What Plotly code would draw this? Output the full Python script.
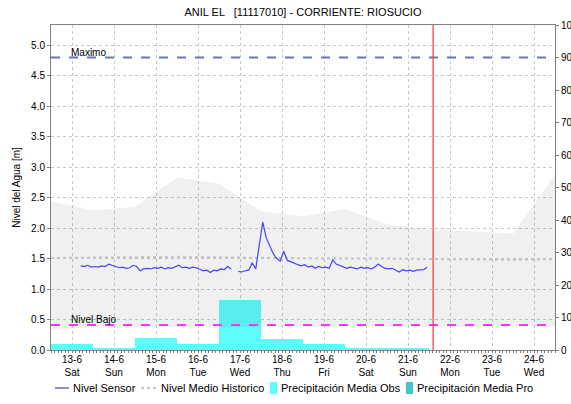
import plotly.graph_objects as go
import pandas as pd

# ---------------- data ----------------
title_text = "ANIL EL   [11117010] - CORRIENTE: RIOSUCIO"

day_ticks = ["2020-06-13", "2020-06-14", "2020-06-15", "2020-06-16", "2020-06-17", "2020-06-18",
             "2020-06-19", "2020-06-20", "2020-06-21", "2020-06-22", "2020-06-23", "2020-06-24"]
day_labels = ["13-6<br>Sat", "14-6<br>Sun", "15-6<br>Mon", "16-6<br>Tue", "17-6<br>Wed", "18-6<br>Thu",
              "19-6<br>Fri", "20-6<br>Sat", "21-6<br>Sun", "22-6<br>Mon", "23-6<br>Tue", "24-6<br>Wed"]

# sensor level (m), every 2 hours from 13-6 05:00 to 21-6 11:00
sensor_start = "2020-06-13 05:00"
sensor_level = [
    1.38, 1.37, 1.39, 1.36, 1.37, 1.36, 1.38, 1.37, 1.41, 1.39,                  # 13-6
    1.37, 1.35, 1.36, 1.34, 1.35, 1.39, 1.37, 1.30, 1.33, 1.34, 1.33, 1.35,      # 14-6
    1.34, 1.36, 1.33, 1.35, 1.34, 1.37, 1.39, 1.35, 1.36, 1.34, 1.36, 1.35,      # 15-6
    1.33, 1.30, 1.31, 1.27, 1.31, 1.30, 1.33, 1.32, 1.37, 1.33, None, 1.29,      # 16-6
    1.28, 1.30, 1.31, 1.43, 1.33, 1.72, 2.10, 1.84, 1.70, 1.58, 1.50, 1.46,      # 17-6
    1.62, 1.47, 1.45, 1.42, 1.40, 1.38, 1.40, 1.36, 1.38, 1.34, 1.37, 1.35,      # 18-6
    1.36, 1.34, 1.48, 1.41, 1.39, 1.36, 1.34, 1.36, 1.35, 1.33, 1.36, 1.34,      # 19-6
    1.35, 1.33, 1.36, 1.41, 1.37, 1.34, 1.33, 1.34, 1.31, 1.28, 1.32, 1.30,      # 20-6
    1.31, 1.29, 1.31, 1.31, 1.32, 1.36,                                          # 21-6
]

# historical statistics at noon of each day
hist_times = ["2020-06-12 12:00", "2020-06-13 12:00", "2020-06-14 12:00", "2020-06-15 12:00",
              "2020-06-16 12:00", "2020-06-17 12:00", "2020-06-18 12:00", "2020-06-19 12:00",
              "2020-06-20 12:00", "2020-06-21 12:00", "2020-06-22 12:00", "2020-06-23 12:00",
              "2020-06-24 12:00"]
hist_max = [2.44, 2.29, 2.35, 2.83, 2.73, 2.28, 2.19, 2.32, 2.06, 1.98, 1.95, 1.91, 2.88]
hist_min = [0.33, 0.37, 0.37, 0.38, 0.38, 0.38, 0.38, 0.38, 0.38, 0.38, 0.38, 0.38, 0.38]
hist_mean = [1.51, 1.52, 1.52, 1.53, 1.52, 1.51, 1.50, 1.50, 1.50, 1.49, 1.48, 1.48, 1.49]

# daily precipitation (mm)
precip_days = ["2020-06-13", "2020-06-14", "2020-06-15", "2020-06-16", "2020-06-17",
               "2020-06-18", "2020-06-19", "2020-06-20", "2020-06-21"]
precip_obs = [1.9, 0.6, 3.8, 1.9, 15.3, 3.4, 1.85, 0.6, 0.6]
precip_pro_days = ["2020-06-22"]
precip_pro = [0]

nivel_maximo = 4.8
nivel_bajo = 0.41
now_time = "2020-06-21 14:20"

legend_names = ["Nivel Sensor", "Nivel Medio Historico", "Precipitación Media Obs", "Precipitación Media Pro"]

# ---------------- figure ----------------
FONT = "Liberation Sans, Arial, sans-serif"
DAY_MS = 86400000
W, H = 571, 404
ML, MR, MT, MB = 51, 16, 25, 54
PW, PH = W - ML - MR, H - MT - MB

C_SENSOR = "#4444ff"
C_MEAN = "#c4c4c4"
C_OBS = "#5ffcfc"
C_PRO = "#3fc8c8"


def px(xp):
    return (xp - ML) / PW


def py(yp):
    return (H - MB - yp) / PH


sensor_times = pd.date_range(sensor_start, periods=len(sensor_level), freq="2h")

fig = go.Figure()

# precipitation bars on the primary (right) axis -> drawn underneath
fig.add_trace(go.Bar(x=precip_days, y=precip_obs, width=DAY_MS, name=legend_names[2],
                     marker=dict(color=C_OBS, line=dict(width=0)), yaxis="y", showlegend=False))
fig.add_trace(go.Bar(x=precip_pro_days, y=precip_pro, width=DAY_MS, name=legend_names[3],
                     marker=dict(color=C_PRO, line=dict(width=0)), yaxis="y", showlegend=False))

# historical band on level axis
fig.add_trace(go.Scatter(x=hist_times, y=hist_min, mode="lines", line=dict(width=0),
                         showlegend=False, hoverinfo="skip", yaxis="y2"))
fig.add_trace(go.Scatter(x=hist_times, y=hist_max, mode="lines", line=dict(width=0),
                         fill="tonexty", fillcolor="rgba(0,0,0,0.06)",
                         showlegend=False, hoverinfo="skip", yaxis="y2"))
fig.add_trace(go.Scatter(x=hist_times, y=hist_mean, mode="lines", name=legend_names[1],
                         line=dict(color=C_MEAN, width=2, dash="dot"), yaxis="y2", showlegend=False))
fig.add_trace(go.Scatter(x=sensor_times, y=sensor_level, mode="lines", name=legend_names[0],
                         line=dict(color=C_SENSOR, width=1.2), connectgaps=False, yaxis="y2",
                         showlegend=False))

# reference lines
fig.add_shape(type="line", xref="paper", x0=0, x1=1, yref="y2", y0=nivel_maximo, y1=nivel_maximo,
              line=dict(color="#6b77a8", width=2, dash="dash"), layer="above")
fig.add_shape(type="line", xref="paper", x0=0, x1=1, yref="y2", y0=nivel_bajo, y1=nivel_bajo,
              line=dict(color="#ff33ff", width=2, dash="dash"), layer="above")
fig.add_shape(type="line", xref="x", x0=now_time, x1=now_time, yref="paper", y0=0, y1=1,
              line=dict(color="#ff3333", width=1.2), layer="above")

fig.add_annotation(x="2020-06-12 22:30", y=nivel_maximo, xref="x", yref="y2", text="Maximo",
                   showarrow=False, xanchor="left", yanchor="bottom", yshift=-2,
                   font=dict(family=FONT, size=10, color="#000000"))
fig.add_annotation(x="2020-06-12 22:30", y=nivel_bajo, xref="x", yref="y2", text="Nivel Bajo",
                   showarrow=False, xanchor="left", yanchor="bottom", yshift=-2,
                   font=dict(family=FONT, size=10, color="#000000"))

# ---- legend drawn below the chart ----
LY = 388
fig.add_shape(type="line", xref="paper", yref="paper", x0=px(55), x1=px(69), y0=py(LY), y1=py(LY),
              line=dict(color="#1c1ca0", width=1))
fig.add_shape(type="line", xref="paper", yref="paper", x0=px(141), x1=px(156), y0=py(LY), y1=py(LY),
              line=dict(color=C_MEAN, width=2, dash="dot"))
fig.add_shape(type="rect", xref="paper", yref="paper", x0=px(270), x1=px(277), y0=py(LY + 6), y1=py(LY - 6),
              fillcolor=C_OBS, line=dict(width=0))
fig.add_shape(type="rect", xref="paper", yref="paper", x0=px(406), x1=px(413), y0=py(LY + 6), y1=py(LY - 6),
              fillcolor=C_PRO, line=dict(width=0))
for name, xl in zip(legend_names, [72, 160, 280, 416]):
    fig.add_annotation(xref="paper", yref="paper", x=px(xl), y=py(LY), text=name, showarrow=False,
                       xanchor="left", yanchor="middle", xshift=-1,
                       font=dict(family=FONT, size=11, color="#000000"))

fig.update_layout(
    width=W, height=H,
    margin=dict(l=ML, r=MR, t=MT, b=MB, autoexpand=False),
    paper_bgcolor="white", plot_bgcolor="white",
    font=dict(family=FONT, size=10, color="#000000"),
    title=dict(text=title_text, x=0.5, xref="paper", xanchor="center",
               y=1 - 12 / H, yref="container", yanchor="middle",
               font=dict(family=FONT, size=11, color="#000000")),
    showlegend=False,
    bargap=0,
    xaxis=dict(type="date", range=["2020-06-12 12:00", "2020-06-24 12:00"],
               tickvals=day_ticks, ticktext=day_labels, tickangle=0, automargin=False,
               showgrid=True, gridcolor="#c8c8c8", griddash="dot", gridwidth=1,
               showline=True, linecolor="#808080", linewidth=1, mirror=True,
               ticks="", zeroline=False,
               minor=dict(dtick=3600000 * 2, ticks="outside", ticklen=2, tickcolor="#808080",
                          showgrid=False),
               tickfont=dict(size=10)),
    yaxis=dict(side="right", range=[0, 100], dtick=10, ticks="outside", ticklen=3,
               tickcolor="#808080", showgrid=False, zeroline=False, automargin=False,
               showline=True, linecolor="#808080", linewidth=1,
               tickfont=dict(size=10)),
    yaxis2=dict(side="left", overlaying="y", range=[0, 16 / 3], dtick=0.5, tickformat=".1f",
                showgrid=True, gridcolor="#c8c8c8", griddash="dot", gridwidth=1,
                ticks="outside", ticklen=3, tickcolor="#808080", automargin=False,
                showline=True, linecolor="#808080", linewidth=1, zeroline=False,
                title=dict(text="Nivel del Agua [m]", font=dict(size=10), standoff=8),
                tickfont=dict(size=10)),
)

fig.write_html("out.html", config={"displayModeBar": False},
               post_script="document.body.style.margin='0';")
